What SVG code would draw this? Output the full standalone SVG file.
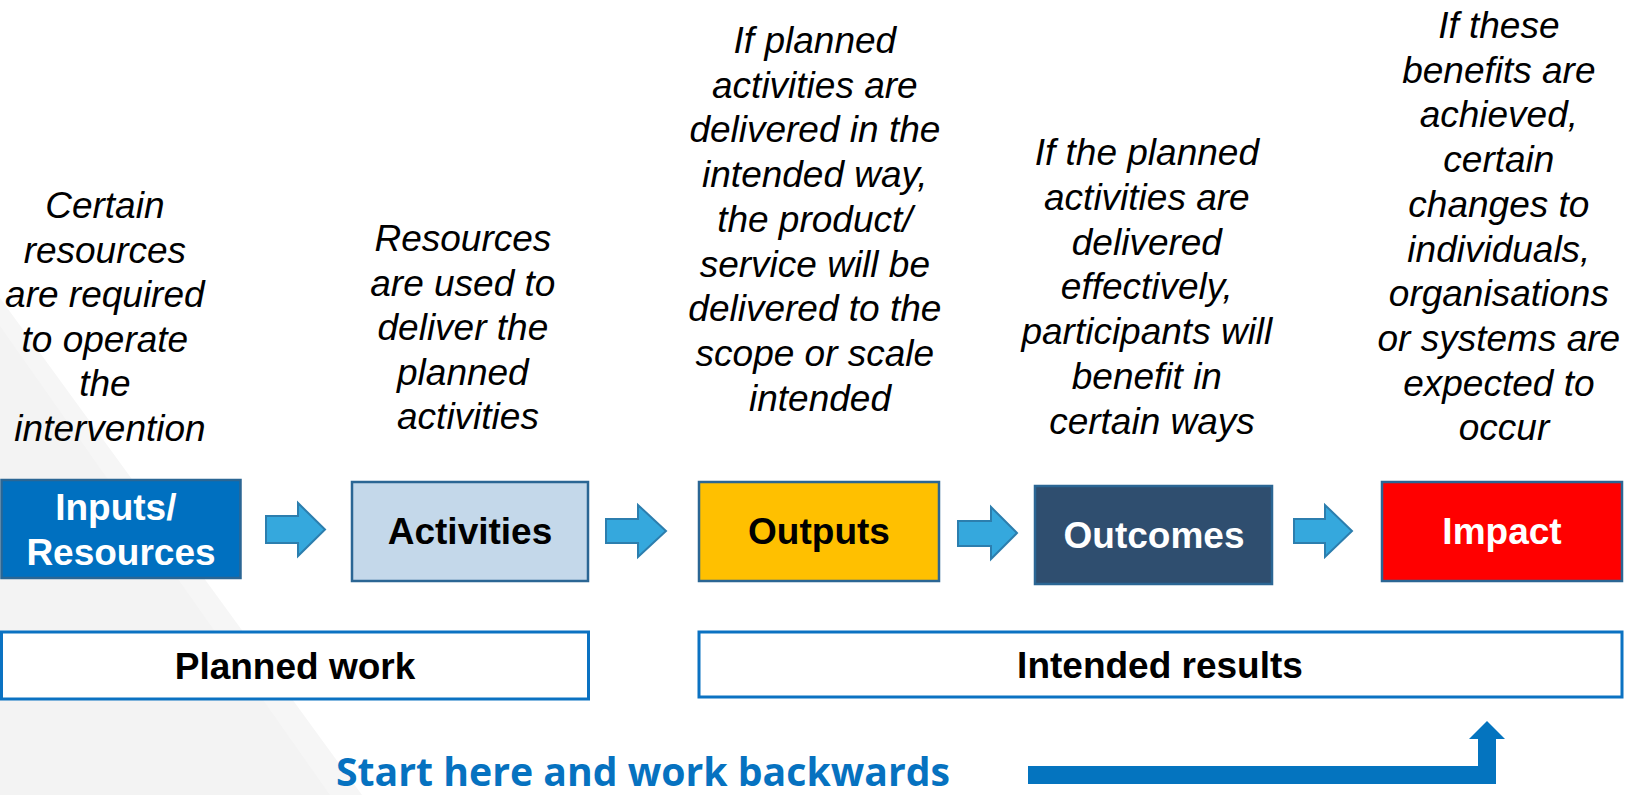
<svg xmlns="http://www.w3.org/2000/svg" width="1631" height="795" viewBox="0 0 1631 795">
  <style>
    .desc { font-family: "Liberation Sans", Arial, sans-serif; font-style: italic; font-size: 37px; fill: #000; text-anchor: middle; }
    .lbl { font-family: "Liberation Sans", Arial, sans-serif; font-weight: bold; font-size: 37px; text-anchor: middle; }
    .box { stroke: #2B6694; stroke-width: 2.5; }
    .band { fill: #ffffff; stroke: #0B72C2; stroke-width: 3; }
    .flow { fill: #35A8DD; stroke: #2C7EAE; stroke-width: 2; stroke-linejoin: miter; }
  </style>

  <rect x="0" y="0" width="1631" height="795" fill="#ffffff"/>

  <!-- soft grey backdrop wedge, lower left -->
  <g id="backdrop">
    <polygon points="0,298 362,795 0,795" fill="#f6f6f6"/>
    <polygon points="0,326 330,795 0,795" fill="#f3f3f3"/>
  </g>

  <!-- explanatory statements above each stage -->
  <g id="notes">
    <text class="desc" x="110">
      <tspan x="110" y="218">Certain</tspan>
      <tspan x="110" y="262.5">resources</tspan>
      <tspan x="110" y="307">are required</tspan>
      <tspan x="110" y="351.5">to operate</tspan>
      <tspan x="110" y="396">the</tspan>
      <tspan x="110" y="440.5">intervention</tspan>
    </text>
    <text class="desc">
      <tspan x="468" y="251">Resources</tspan>
      <tspan x="468" y="295.5">are used to</tspan>
      <tspan x="468" y="340">deliver the</tspan>
      <tspan x="468" y="384.5">planned</tspan>
      <tspan x="468" y="429">activities</tspan>
    </text>
    <text class="desc">
      <tspan x="820" y="53">If planned</tspan>
      <tspan x="820" y="97.7">activities are</tspan>
      <tspan x="820" y="142.4">delivered in the</tspan>
      <tspan x="820" y="187.1">intended way,</tspan>
      <tspan x="820" y="231.8">the product/</tspan>
      <tspan x="820" y="276.5">service will be</tspan>
      <tspan x="820" y="321.2">delivered to the</tspan>
      <tspan x="820" y="365.9">scope or scale</tspan>
      <tspan x="820" y="410.6">intended</tspan>
    </text>
    <text class="desc">
      <tspan x="1152" y="165">If the planned</tspan>
      <tspan x="1152" y="209.8">activities are</tspan>
      <tspan x="1152" y="254.6">delivered</tspan>
      <tspan x="1152" y="299.4">effectively,</tspan>
      <tspan x="1152" y="344.2">participants will</tspan>
      <tspan x="1152" y="389">benefit in</tspan>
      <tspan x="1152" y="433.8">certain ways</tspan>
    </text>
    <text class="desc">
      <tspan x="1504" y="38">If these</tspan>
      <tspan x="1504" y="82.7">benefits are</tspan>
      <tspan x="1504" y="127.4">achieved,</tspan>
      <tspan x="1504" y="172.1">certain</tspan>
      <tspan x="1504" y="216.8">changes to</tspan>
      <tspan x="1504" y="261.5">individuals,</tspan>
      <tspan x="1504" y="306.2">organisations</tspan>
      <tspan x="1504" y="350.9">or systems are</tspan>
      <tspan x="1504" y="395.6">expected to</tspan>
      <tspan x="1504" y="440.3">occur</tspan>
    </text>
  </g>

  <!-- stage boxes -->
  <g id="inputs">
    <rect class="box" x="1.5" y="480" width="239" height="98" fill="#0070C0"/>
    <text class="lbl" fill="#ffffff">
      <tspan x="121" y="520">Inputs/</tspan>
      <tspan x="121" y="565">Resources</tspan>
    </text>
  </g>
  <g id="activities">
    <rect class="box" x="352" y="482" width="236" height="99" fill="#C4D8EA"/>
    <text class="lbl" x="470" y="544" fill="#000000">Activities</text>
  </g>
  <g id="outputs">
    <rect class="box" x="699" y="482" width="240" height="99" fill="#FFC000"/>
    <text class="lbl" x="819" y="544" fill="#000000">Outputs</text>
  </g>
  <g id="outcomes">
    <rect class="box" x="1035" y="486" width="237" height="98" fill="#2F4E6F"/>
    <text class="lbl" x="1154" y="548" fill="#ffffff">Outcomes</text>
  </g>
  <g id="impact">
    <rect class="box" x="1382" y="482" width="240" height="99" fill="#FF0000"/>
    <text class="lbl" x="1502" y="544" fill="#ffffff">Impact</text>
  </g>

  <!-- grouping bands -->
  <g id="planned-work">
    <rect class="band" x="1.5" y="632" width="587" height="67"/>
    <text class="lbl" x="295" y="679" fill="#000000">Planned work</text>
  </g>
  <g id="intended-results">
    <rect class="band" x="699" y="632" width="923" height="65"/>
    <text class="lbl" x="1160" y="678" fill="#000000">Intended results</text>
  </g>

  <!-- block arrows between stages, and the return arrow -->
  <g id="connectors">
    <polygon class="flow" points="266,516 298,516 298,503 325,529.5 298,556 298,543 266,543"/>
    <polygon class="flow" points="606,519 638,519 638,505 666,531 638,557 638,543 606,543"/>
    <polygon class="flow" points="958,521 991,521 991,507 1017,533 991,559 991,546 958,546"/>
    <polygon class="flow" points="1294,519 1325,519 1325,505 1352,531 1325,557 1325,543 1294,543"/>
    <polygon points="1028,766 1478,766 1478,739 1469,739 1487,721 1505,739 1496,739 1496,784 1028,784" fill="#0474BF"/>
  </g>

  <g id="caption">
    <text x="336" y="786" font-family="'Open Sans', 'Noto Sans', sans-serif" font-weight="bold" font-size="40" fill="#0672C0" textLength="614" lengthAdjust="spacingAndGlyphs">Start here and work backwards</text>
  </g>
</svg>
